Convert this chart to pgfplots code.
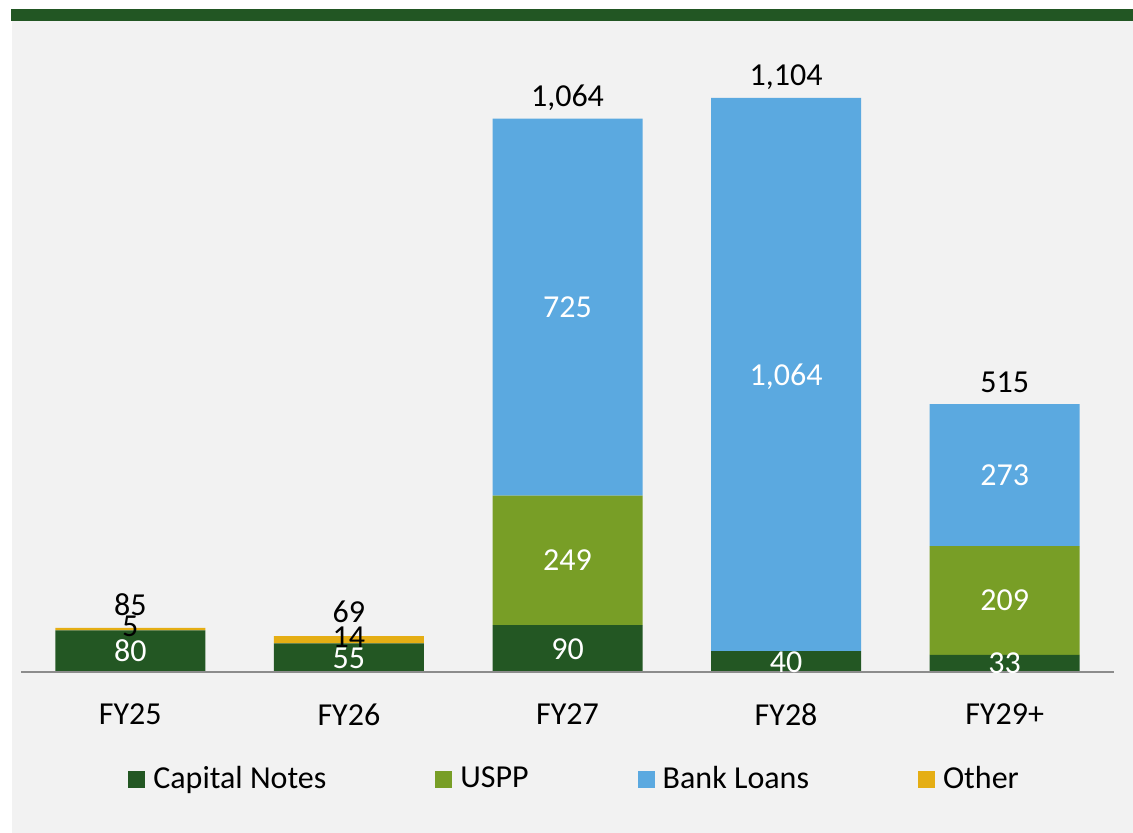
\documentclass[border=0pt]{standalone}
\usepackage{fontspec}
\setmainfont{Carlito}
\usepackage{pgfplots}
\pgfplotsset{compat=1.18}
\definecolor{capnotes}{HTML}{235723}
\definecolor{uspp}{HTML}{789E26}
\definecolor{bankloans}{HTML}{5BA9E0}
\definecolor{other}{HTML}{E5AE14}
\definecolor{bggray}{HTML}{F2F2F2}
\definecolor{topgreen}{HTML}{225623}
\definecolor{axisgray}{HTML}{8C8C8C}
\newcommand{\lbl}{\fontsize{16}{19}\selectfont}

\begin{document}
\begin{tikzpicture}[x=0.5pt,y=0.5pt]
\useasboundingbox (0,0) rectangle (1133,833);
\fill[white] (0,0) rectangle (1133,833);
\fill[bggray] (12,0) rectangle (1133,812);
\fill[topgreen] (11,812) rectangle (1133,824);

\pgfplotsset{chartframe/.style={scale only axis, width=546.5pt, height=315.9pt,
  xmin=-0.5, xmax=4.5, ymin=0, ymax=1215,
  at={(10.5pt,80.5pt)}, anchor=south west}}

% stacked bars
\begin{axis}[chartframe, ybar stacked, bar width=75pt, axis on top,
  axis x line*=bottom, axis y line=none,
  x axis line style={draw=axisgray, line width=1.2pt},
  xtick={0,1,2,3,4}, xticklabels={FY25,FY26,FY27,FY28,FY29+},
  major tick length=0pt, ytick=\empty,
  xticklabel style={font=\lbl, yshift=-12.5pt},
  legend style={at={(0.5074,-0.1694)}, anchor=center, draw=none, fill=none,
    legend columns=4, font=\lbl,
    /tikz/every odd column/.append style={column sep=2pt},
    /tikz/every even column/.append style={column sep=52.5pt}},
  legend image code/.code={\fill[#1,draw=none] (0pt,-4.25pt) rectangle (8.5pt,4.25pt);}]
\addplot[fill=capnotes, draw=none] coordinates {(0,80)(1,55)(2,90)(3,40)(4,33)};
\addplot[fill=uspp, draw=none] coordinates {(0,0)(1,0)(2,249)(3,0)(4,209)};
\addplot[fill=bankloans, draw=none] coordinates {(0,0)(1,0)(2,725)(3,1064)(4,273)};
\addplot[fill=other, draw=none] coordinates {(0,5)(1,14)(2,0)(3,0)(4,0)};
\legend{Capital Notes, USPP, Bank Loans, Other}
\end{axis}

% value labels
\begin{axis}[chartframe, hide axis, clip=false]
\addplot[draw=none, mark=none, nodes near coords, point meta=explicit symbolic,
  every node near coord/.style={anchor=base, yshift=-5.25pt, font=\lbl, text=white, inner sep=0pt}]
  coordinates {(0,40)[80] (1,27.5)[55] (2,45)[90] (2,214.5)[249] (2,701.5)[725]
    (3,20)[40] (3,572)[1,064] (4,16.5)[33] (4,137.5)[209] (4,378.5)[273]};
\addplot[draw=none, mark=none, nodes near coords, point meta=explicit symbolic,
  every node near coord/.style={anchor=base, yshift=-5.25pt, font=\lbl, text=black, inner sep=0pt}]
  coordinates {(0,88)[5] (1,68)[14]};
\addplot[draw=none, mark=none, nodes near coords, point meta=explicit symbolic,
  every node near coord/.style={anchor=base, yshift=6pt, font=\lbl, text=black, inner sep=0pt}]
  coordinates {(0,85)[85] (1,73)[69] (2,1064)[1,064] (3,1104)[1,104] (4,515)[515]};
\end{axis}
\end{tikzpicture}
\end{document}
